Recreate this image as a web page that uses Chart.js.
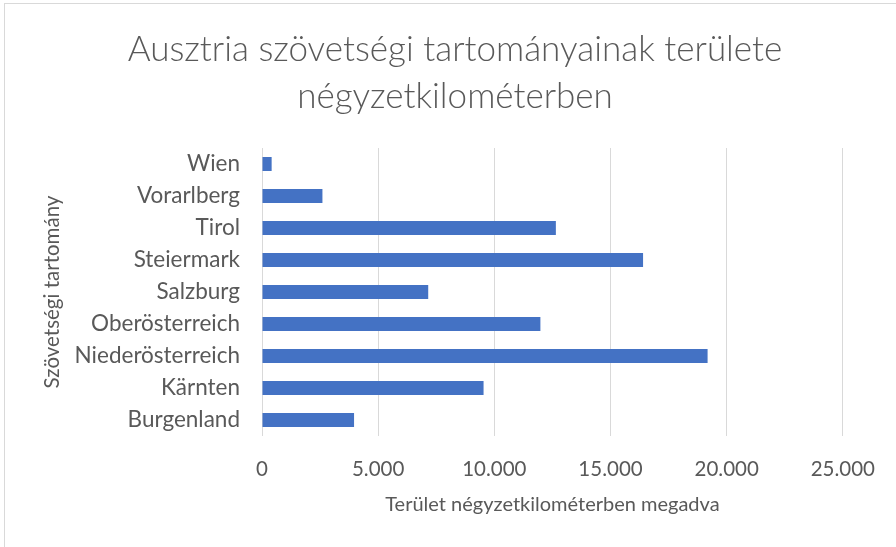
<!DOCTYPE html>
<html>
<head>
<meta charset="utf-8">
<script src="https://cdn.jsdelivr.net/npm/chart.js@4"></script>
<style>
  html, body { margin: 0; padding: 0; background: #fff; overflow: hidden; }
  #wrap { position: relative; width: 896px; height: 547px; }
  #frame { position: absolute; left: 4px; top: 3px; width: 900px; height: 560px; border: 1px solid #d9d9d9; box-sizing: border-box; }
  canvas { position: absolute; left: 0; top: 0; }
</style>
</head>
<body>
<div id="wrap">
  <div id="frame"></div>
  <canvas id="chart" width="896" height="547"></canvas>
</div>
<script>
// states, listed bottom to top as in the original sheet
const states = ['Burgenland', 'Kärnten', 'Niederösterreich', 'Oberösterreich', 'Salzburg', 'Steiermark', 'Tirol', 'Vorarlberg', 'Wien'];
// area in km²
const areas = [3962, 9536, 19178, 11982, 7154, 16401, 12648, 2601, 415];

const titleLines = ['Ausztria szövetségi tartományainak területe', 'négyzetkilométerben'];
const xTitle = 'Terület négyzetkilométerben megadva';
const yTitle = 'Szövetségi tartomány';

const textColor = '#595959';
const gridColor = '#d9d9d9';
const fontFamily = 'Lato, "Open Sans", sans-serif';

// thousands with a dot, like the Hungarian Excel output
function fmt(v) {
    return String(v).replace(/\B(?=(\d{3})+(?!\d))/g, '.');
}

const ctx = document.getElementById('chart').getContext('2d');
new Chart(ctx, {
    type: 'bar',
    data: {
        labels: states,
        datasets: [{
            label: 'Terület',
            data: areas,
            backgroundColor: '#4472C4',
            borderWidth: 0,
            categoryPercentage: 1,
            barPercentage: 0.435
        }]
    },
    options: {
        indexAxis: 'y',
        responsive: false,
        animation: false,
        layout: { padding: { left: 14, right: 0, top: 0, bottom: 0 } },
        plugins: {
            legend: { display: false },
            tooltip: { enabled: false },
            title: {
                display: true,
                text: titleLines,
                color: textColor,
                font: { family: fontFamily, size: 35, weight: 300, lineHeight: 1.343 },
                padding: { top: 26.5, bottom: 27.5 }
            }
        },
        scales: {
            x: {
                min: 0,
                max: 25000,
                ticks: {
                    stepSize: 5000,
                    color: textColor,
                    padding: 21,
                    font: { family: fontFamily, size: 20.5 },
                    callback: v => fmt(v)
                },
                grid: { color: gridColor, drawTicks: false },
                border: { display: false },
                title: {
                    display: true,
                    text: xTitle,
                    color: textColor,
                    font: { family: fontFamily, size: 20 },
                    padding: { top: 0, bottom: 30 }
                },
                afterFit: s => { s.height = 111; }
            },
            y: {
                reverse: true,
                ticks: {
                    color: textColor,
                    padding: 22,
                    font: { family: fontFamily, size: 22.5 }
                },
                grid: { display: false, drawTicks: false },
                border: { display: false },
                title: {
                    display: true,
                    text: yTitle,
                    color: textColor,
                    font: { family: fontFamily, size: 20.5 },
                    padding: { top: 26, bottom: 0 }
                },
                afterFit: s => { s.width = 248; }
            },
            // empty right-hand axis, only keeps the white margin right of the plot
            yRight: {
                type: 'category',
                position: 'right',
                ticks: { display: false },
                grid: { display: false, drawTicks: false },
                border: { display: false },
                afterFit: s => { s.width = 51; }
            }
        }
    }
});
</script>
</body>
</html>
